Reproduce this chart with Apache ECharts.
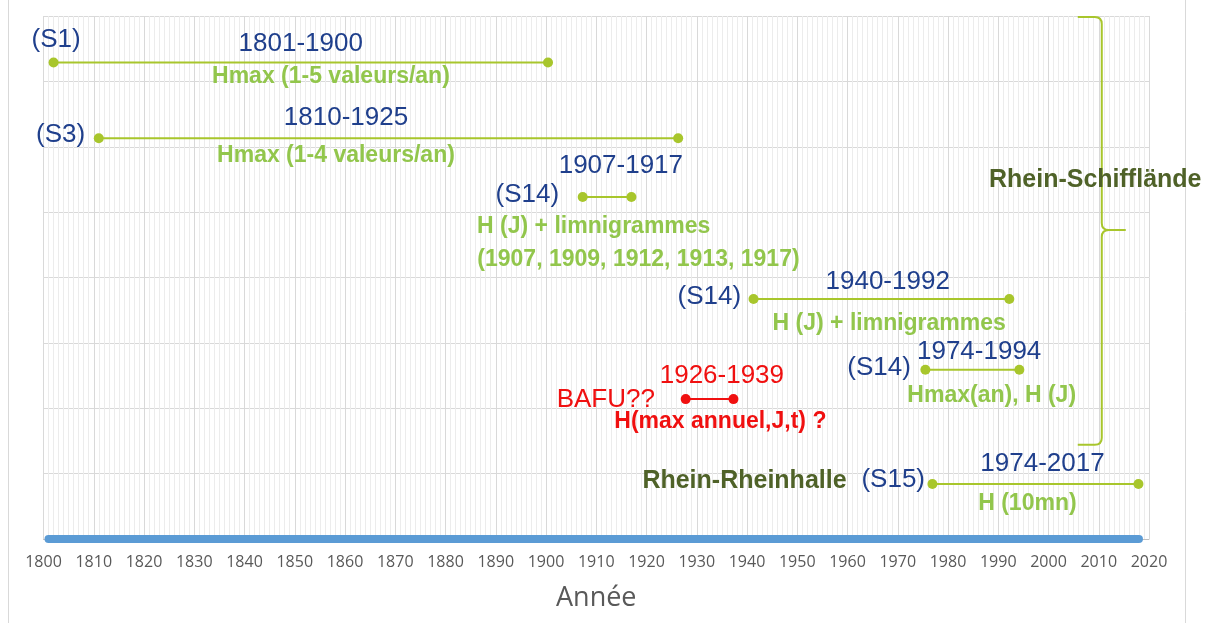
<!DOCTYPE html>
<html>
<head>
<meta charset="utf-8">
<title>Rhein - périodes de mesure</title>
<script src="https://cdn.jsdelivr.net/npm/echarts@6/dist/echarts.min.js"></script>
<style>
  html, body { margin: 0; padding: 0; background: #ffffff; }
  #chart { width: 1210px; height: 623px; }
</style>
</head>
<body>
<div id="chart"></div>
<script>
// one entry per measurement period
var stations   = ["S1", "S3", "S14", "S14", "S14", "BAFU", "S15"];
var startYears = [1802, 1811, 1907.3, 1941.3, 1975.5, 1927.8, 1976.9];
var endYears   = [1900.4, 1926.3, 1917, 1992.2, 1994.2, 1937.3, 2017.9];
var levels     = [7.29, 6.13, 5.23, 3.67, 2.59, 2.14, 0.84];
var doubtful   = [false, false, false, false, false, true, false];

// year band drawn on the time axis
var bandYears = [1801, 2018];
var yearMin = 1800, yearMax = 2020, yearStep = 10;

// text notes: [text, year, level]
var stationNotes = [
  ["(S1)", 1802.5, 7.63],
  ["(S3)", 1803.4, 6.18],
  ["(S14)", 1896.3, 5.26],
  ["(S14)", 1932.5, 3.70],
  ["(S14)", 1966.3, 2.62],
  ["(S15)", 1969.1, 0.91]
];
var rangeNotes = [
  ["1801-1900", 1851.2, 7.58],
  ["1810-1925", 1860.2, 6.44],
  ["1907-1917", 1914.9, 5.71],
  ["1940-1992", 1968.0, 3.93],
  ["1974-1994", 1986.2, 2.86],
  ["1974-2017", 1998.8, 1.15]
];
var contentNotes = [
  ["Hmax (1-5 valeurs/an)", 1857.2, 7.07],
  ["Hmax (1-4 valeurs/an)", 1858.2, 5.87],
  ["H (J) + limnigrammes", 1909.5, 4.78],
  ["(1907, 1909, 1912, 1913, 1917)", 1918.4, 4.28],
  ["H (J) + limnigrammes", 1968.3, 3.30],
  ["Hmax(an), H (J)", 1988.7, 2.19],
  ["H (10mn)", 1995.8, 0.54]
];
var doubtNotes = [
  ["1926-1939", 1935.0, 2.49],
  ["BAFU??", 1911.9, 2.13]
];
var doubtContent = [
  ["H(max annuel,J,t) ?", 1934.7, 1.79]
];
var siteNotes = [
  ["Rhein-Schifflände", 2009.3, 5.49],
  ["Rhein-Rheinhalle", 1939.5, 0.89]
];
// brace grouping the Schifflände records: [year, top, bottom, tip]
var braceSpan = [2010.6, 7.985, 1.44, 4.727];

var FONT = "'Liberation Sans', Arial, sans-serif";
var GREEN_LINE = "#a8c62c";
var RED = "#f01010";

function segmentSeries(i) {
  var color = doubtful[i] ? RED : GREEN_LINE;
  return {
    type: "line",
    name: stations[i],
    data: [[startYears[i], levels[i]], [endYears[i], levels[i]]],
    symbol: "circle",
    symbolSize: 10,
    showSymbol: true,
    clip: false,
    silent: true,
    z: 3,
    lineStyle: { color: color, width: 2 },
    itemStyle: { color: color, opacity: 1 }
  };
}

function noteSeries(list, color, size, weight) {
  return {
    type: "scatter",
    symbolSize: 0,
    silent: true,
    clip: false,
    z: 6,
    itemStyle: { opacity: 1 },
    emphasis: { disabled: true },
    data: list.map(function (n) { return { name: n[0], value: [n[1], n[2]] }; }),
    label: {
      show: true,
      position: "inside",
      formatter: "{b}",
      opacity: 1,
      color: color,
      fontSize: size,
      fontWeight: weight,
      fontFamily: FONT
    }
  };
}

function renderBrace(params, api) {
  var t = api.coord([api.value(0), api.value(1)]);
  var b = api.coord([api.value(0), api.value(2)]);
  var m = api.coord([api.value(0), api.value(3)]);
  var x = t[0], w = 24, r = 7;
  var d = [
    "M", x - w, t[1], "L", x - r, t[1], "Q", x, t[1], x, t[1] + r,
    "L", x, m[1] - r, "Q", x, m[1], x + r, m[1], "L", x + w, m[1],
    "M", x + r, m[1], "Q", x, m[1], x, m[1] + r,
    "L", x, b[1] - r, "Q", x, b[1], x - r, b[1], "L", x - w, b[1]
  ].join(" ");
  return {
    type: "path",
    shape: { pathData: d },
    style: { stroke: GREEN_LINE, fill: null, lineWidth: 2 }
  };
}

var series = [];
series.push({
  type: "custom",
  silent: true,
  clip: false,
  z: 2,
  data: [braceSpan],
  renderItem: renderBrace
});
series.push({
  type: "line",
  data: [[bandYears[0], 0], [bandYears[1], 0]],
  symbol: "none",
  clip: false,
  silent: true,
  z: 4,
  lineStyle: { color: "#5b9bd5", width: 8, cap: "round" }
});
for (var i = 0; i < stations.length; i++) series.push(segmentSeries(i));
series.push(noteSeries(stationNotes, "#1f3f8c", 26, "normal"));
series.push(noteSeries(rangeNotes, "#1f3f8c", 26, "normal"));
series.push(noteSeries(contentNotes, "#92c64c", 23, "bold"));
series.push(noteSeries(doubtNotes, RED, 26, "normal"));
series.push(noteSeries(doubtContent, RED, 23, "bold"));
series.push(noteSeries(siteNotes, "#4f6228", 25, "bold"));

var chart = echarts.init(document.getElementById("chart"), null, { renderer: "canvas" });
chart.setOption({
  animation: false,
  backgroundColor: "#ffffff",
  grid: { left: 43.5, right: 61, top: 16, bottom: 84, containLabel: false, outerBoundsMode: "none" },
  graphic: [{
    type: "rect",
    silent: true,
    z: -10,
    shape: { x: 8.5, y: -10, width: 1177, height: 650 },
    style: { fill: null, stroke: "#d9d9d9", lineWidth: 1 }
  }],
  xAxis: {
    type: "value",
    min: yearMin,
    max: yearMax,
    interval: yearStep,
    name: "Année",
    nameLocation: "middle",
    nameGap: 46,
    nameTextStyle: { color: "#595959", fontSize: 27, fontFamily: "'Open Sans', sans-serif" },
    axisLine: { show: true, lineStyle: { color: "#bfbfbf", width: 1 } },
    axisTick: { show: false },
    axisLabel: {
      color: "#595959",
      fontSize: 16,
      fontFamily: "'Open Sans', sans-serif",
      margin: 15,
      formatter: function (v) { return String(v); }
    },
    splitLine: { show: true, lineStyle: { color: "#d9d9d9", width: 1 } },
    minorTick: { show: false, splitNumber: 10 },
    minorSplitLine: { show: true, lineStyle: { color: "#ececec", width: 1 } }
  },
  yAxis: {
    type: "value",
    min: 0,
    max: 8,
    interval: 1,
    axisLine: { show: false },
    axisTick: { show: false },
    axisLabel: { show: false },
    splitLine: { show: true, lineStyle: { color: "#d9d9d9", width: 1 } }
  },
  series: series
});
</script>
</body>
</html>
